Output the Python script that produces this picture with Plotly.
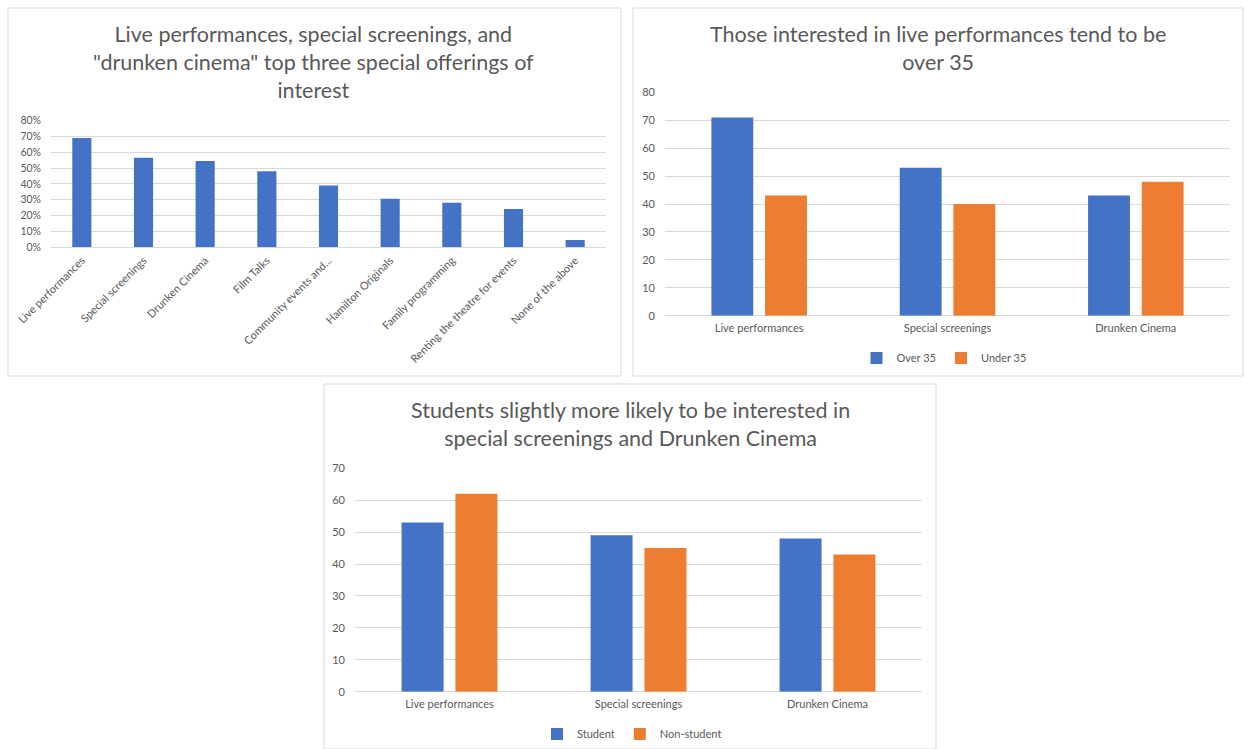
import plotly.graph_objects as go

# --- data -------------------------------------------------------------
offerings = ["Live performances", "Special screenings", "Drunken Cinema", "Film Talks",
             "Community events and...", "Hamilton Originals", "Family programming",
             "Renting the theatre for events", "None of the above"]
offering_share = [0.69, 0.565, 0.545, 0.48, 0.39, 0.305, 0.28, 0.24, 0.045]

top3 = ["Live performances", "Special screenings", "Drunken Cinema"]
over_35 = [71, 53, 43]
under_35 = [43, 40, 48]
student = [53, 49, 48]
non_student = [62, 45, 43]

pct_ticks = [0, 0.1, 0.2, 0.3, 0.4, 0.5, 0.6, 0.7, 0.8]
pct_labels = ["0%", "10%", "20%", "30%", "40%", "50%", "60%", "70%", "80%"]

# --- styling ----------------------------------------------------------
W, H = 1244, 749
BLUE = "#4472C4"
ORANGE = "#ED7D31"
GRID = "#D9D9D9"
TEXT = "#595959"
FONT = "Lato"


def px_x(x):
    return x / W


def px_y(y):
    return 1 - y / H


fig = go.Figure()

# chart 1: all special offerings
fig.add_trace(go.Bar(x=offerings, y=offering_share, marker_color=BLUE, width=0.31,
                     marker_line_width=0, xaxis="x", yaxis="y", showlegend=False))

# chart 2: by age
fig.add_trace(go.Bar(x=top3, y=over_35, name="Over 35", marker_color=BLUE,
                     marker_line_width=0, xaxis="x2", yaxis="y2", legend="legend"))
fig.add_trace(go.Bar(x=top3, y=under_35, name="Under 35", marker_color=ORANGE,
                     marker_line_width=0, xaxis="x2", yaxis="y2", legend="legend"))

# chart 3: by student status
fig.add_trace(go.Bar(x=top3, y=student, name="Student", marker_color=BLUE,
                     marker_line_width=0, xaxis="x3", yaxis="y3", legend="legend2"))
fig.add_trace(go.Bar(x=top3, y=non_student, name="Non-student", marker_color=ORANGE,
                     marker_line_width=0, xaxis="x3", yaxis="y3", legend="legend2"))


def tick_font(size):
    return dict(family=FONT, size=size, color=TEXT)


def xaxis(x0, x1, anchor, angle=0, size=11):
    return dict(domain=[px_x(x0), px_x(x1)], anchor=anchor, showgrid=False,
                showline=False, zeroline=False, ticks="", tickfont=tick_font(size),
                tickangle=angle, fixedrange=True, ticklabelstandoff=4,
                automargin=False)


def yaxis(y0, y1, anchor, rng, dtick=None, tickvals=None, ticktext=None, size=11):
    d = dict(domain=[px_y(y1), px_y(y0)], anchor=anchor, range=rng,
             showgrid=True, gridcolor=GRID, gridwidth=1, zeroline=True,
             zerolinecolor=GRID, zerolinewidth=1, showline=False, ticks="",
             tickfont=tick_font(size), fixedrange=True, ticklabelstandoff=9,
             automargin=False)
    if dtick is not None:
        d.update(tick0=0, dtick=dtick)
    if tickvals is not None:
        d.update(tickmode="array", tickvals=tickvals, ticktext=ticktext)
    return d


fig.update_layout(
    width=W, height=H, margin=dict(l=0, r=0, t=0, b=0, autoexpand=False),
    paper_bgcolor="white", plot_bgcolor="white",
    font=dict(family=FONT, color=TEXT),
    barmode="group", bargap=0.43, bargroupgap=0.22,
    xaxis=xaxis(51, 606, "y", angle=-45, size=11),
    yaxis=yaxis(120.7, 247, "x", [0, 0.8], tickvals=pct_ticks, ticktext=pct_labels,
                size=10.5),
    xaxis2=xaxis(665, 1230, "y2"),
    yaxis2=yaxis(92.3, 315.7, "x2", [0, 80], dtick=10),
    xaxis3=xaxis(355, 922, "y3"),
    yaxis3=yaxis(468.3, 691.7, "x3", [0, 70], dtick=10),
    legend=dict(orientation="h", x=px_x(944), y=px_y(358), xanchor="center",
                yanchor="middle", font=tick_font(11), itemwidth=30,
                bgcolor="rgba(0,0,0,0)"),
    legend2=dict(orientation="h", x=px_x(632), y=px_y(734), xanchor="center",
                 yanchor="middle", font=tick_font(11), itemwidth=30,
                 bgcolor="rgba(0,0,0,0)"),
)

# panel frames
panels = [(8, 8, 621, 376), (633, 8, 1243, 376), (324, 384, 936, 749)]
for x0, y0, x1, y1 in panels:
    fig.add_shape(type="rect", xref="paper", yref="paper",
                  x0=px_x(x0), x1=px_x(x1), y0=px_y(y1), y1=px_y(y0),
                  line=dict(color=GRID, width=1), fillcolor="rgba(0,0,0,0)", layer="below")

# chart titles
titles = [
    (314, 19, "Live performances, special screenings, and<br>\"drunken cinema\" top three special offerings of<br>interest"),
    (938, 19, "Those interested in live performances tend to be<br>over 35"),
    (630, 395, "Students slightly more likely to be interested in<br>special screenings and Drunken Cinema"),
]
for cx, ty, text in titles:
    fig.add_annotation(x=px_x(cx), y=px_y(ty), xref="paper", yref="paper",
                       xanchor="center", yanchor="top", showarrow=False, text=text,
                       font=dict(family=FONT, size=21.5, color=TEXT), align="center")

fig.write_html("out.html")
